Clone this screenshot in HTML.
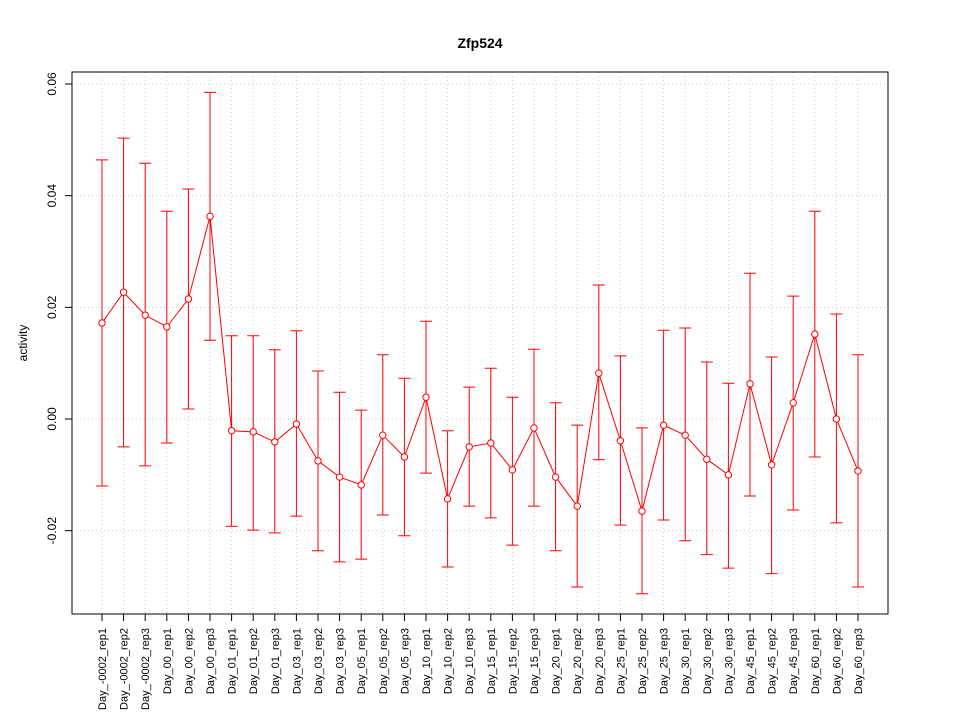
<!DOCTYPE html>
<html><head><meta charset="utf-8"><style>
body{margin:0;background:#fff}
svg{display:block;font-family:"Liberation Sans",Arial,sans-serif}
</style></head><body>
<svg id="chart" width="960" height="720">
<rect x="0" y="0" width="960" height="720" fill="#fff"/>
<text x="480" y="48" text-anchor="middle" font-weight="bold" font-size="14">Zfp524</text>
<text transform="translate(27,343) rotate(-90)" text-anchor="middle" font-size="12">activity</text>
<g id="grid"></g><g id="axes"></g><g id="marks"></g>
<rect x="72" y="72" width="816" height="542" fill="none" stroke="#000" stroke-width="1"/>
</svg>
<script>
const categories=["Day_-0002_rep1","Day_-0002_rep2","Day_-0002_rep3","Day_00_rep1","Day_00_rep2","Day_00_rep3","Day_01_rep1","Day_01_rep2","Day_01_rep3","Day_03_rep1","Day_03_rep2","Day_03_rep3","Day_05_rep1","Day_05_rep2","Day_05_rep3","Day_10_rep1","Day_10_rep2","Day_10_rep3","Day_15_rep1","Day_15_rep2","Day_15_rep3","Day_20_rep1","Day_20_rep2","Day_20_rep3","Day_25_rep1","Day_25_rep2","Day_25_rep3","Day_30_rep1","Day_30_rep2","Day_30_rep3","Day_45_rep1","Day_45_rep2","Day_45_rep3","Day_60_rep1","Day_60_rep2","Day_60_rep3"];
const values=[0.0172,0.0227,0.0186,0.0165,0.0215,0.0363,-0.0021,-0.0023,-0.0041,-0.0009,-0.0075,-0.0104,-0.0118,-0.0029,-0.0068,0.0039,-0.0143,-0.0050,-0.0043,-0.0091,-0.0016,-0.0104,-0.0156,0.0082,-0.0039,-0.0165,-0.0011,-0.0029,-0.0072,-0.0100,0.0063,-0.0082,0.0029,0.0152,0.0000,-0.0093];
const upper=[0.0464,0.0503,0.0458,0.0372,0.0412,0.0585,0.0149,0.0149,0.0124,0.0158,0.0086,0.0048,0.0016,0.0115,0.0073,0.0175,-0.0021,0.0057,0.0091,0.0039,0.0125,0.0029,-0.0011,0.0240,0.0113,-0.0016,0.0159,0.0163,0.0102,0.0064,0.0261,0.0111,0.0220,0.0372,0.0188,0.0115];
const lower=[-0.0120,-0.0050,-0.0084,-0.0043,0.0018,0.0141,-0.0192,-0.0199,-0.0204,-0.0174,-0.0236,-0.0256,-0.0251,-0.0172,-0.0209,-0.0097,-0.0265,-0.0156,-0.0177,-0.0226,-0.0156,-0.0236,-0.0301,-0.0073,-0.0190,-0.0313,-0.0181,-0.0218,-0.0243,-0.0267,-0.0138,-0.0277,-0.0163,-0.0068,-0.0186,-0.0301];
const yTicks=[-0.02,0.00,0.02,0.04,0.06];
const yTickLabels=["-0.02","0.00","0.02","0.04","0.06"];
const NS="http://www.w3.org/2000/svg";
function xs(i){return 102+i*(756/(categories.length-1));}
function ys(v){return 419-v*(335/0.06);}
function mk(tag,attrs,parent){const e=document.createElementNS(NS,tag);for(const k in attrs)e.setAttribute(k,attrs[k]);parent.appendChild(e);return e;}
const grid=document.getElementById('grid'),axes=document.getElementById('axes'),marks=document.getElementById('marks');
yTicks.forEach((t,i)=>{const y=ys(t);
 const g=mk('line',{x1:72,x2:888,y1:y,y2:y,stroke:'#ccc','stroke-dasharray':'1,3'},grid);
 
 
 const tk=mk('line',{x1:65,x2:72,y1:y,y2:y,stroke:'#000'},axes);
 
 
 const tx=mk('text',{transform:`translate(56,${y}) rotate(-90)`,'text-anchor':'middle','font-size':'12'},axes);
 tx.textContent=yTickLabels[i];
 
 
});
categories.forEach((c,i)=>{const x=xs(i);
 const g=mk('line',{x1:x,x2:x,y1:72,y2:614,stroke:'#ccc','stroke-dasharray':'1,3'},grid);
 
 
 const tk=mk('line',{x1:x,x2:x,y1:614,y2:621,stroke:'#000'},axes);
 
 
 const tx=mk('text',{transform:`translate(${x+4},628) rotate(-90)`,'text-anchor':'end','font-size':'11'},axes);
 tx.textContent=c;
 
 
});
const pts=values.map((v,i)=>xs(i)+','+ys(v)).join(' ');
const pl=mk('polyline',{points:pts,fill:'none',stroke:'#f00','stroke-width':1},marks);


values.forEach((v,i)=>{const x=xs(i);
 const eb=mk('path',{d:`M${x},${ys(upper[i])}V${ys(lower[i])}M${x-6},${ys(upper[i])}H${x+6}M${x-6},${ys(lower[i])}H${x+6}`,stroke:'#f00','stroke-width':1,fill:'none'},marks);
 
 
 const c=mk('circle',{cx:x,cy:ys(v),r:3.2,fill:'#fff',stroke:'#f00','stroke-width':1},marks);
 
 
});
</script>
</body></html>
